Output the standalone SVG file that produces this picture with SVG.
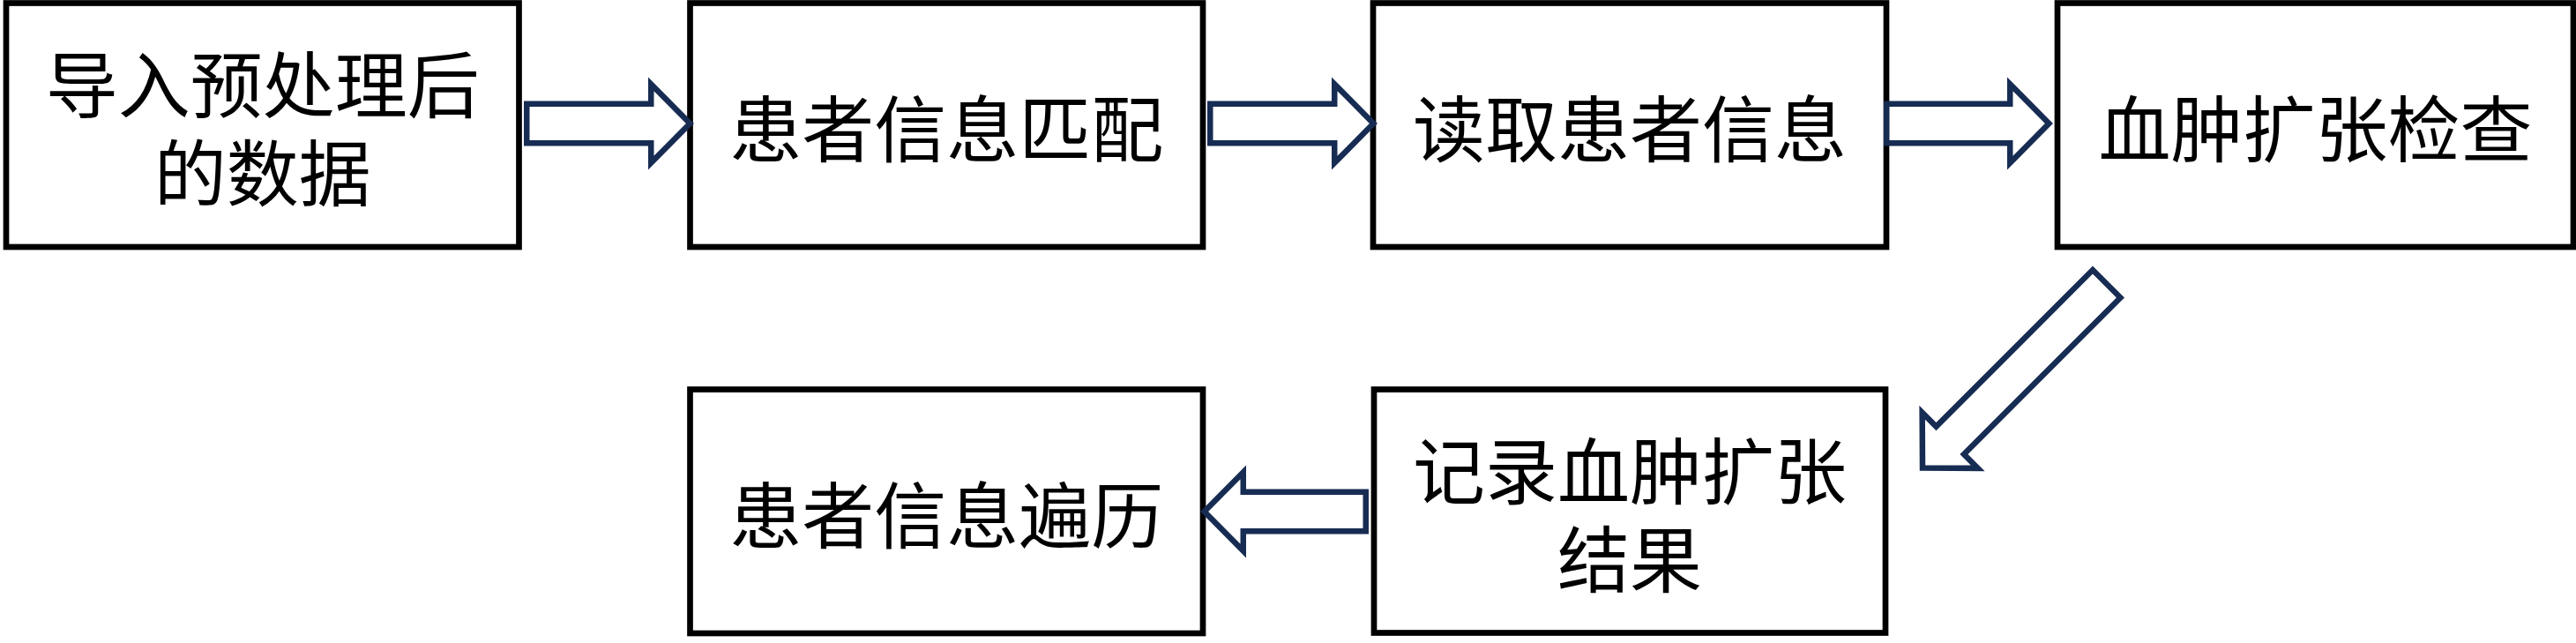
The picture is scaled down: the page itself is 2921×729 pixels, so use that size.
<svg xmlns="http://www.w3.org/2000/svg" width="2921" height="729" viewBox="0 0 2921 729">
<style>
.box{fill:#ffffff;stroke:#000000;stroke-width:6.7}
.lbl{font-family:"Noto Sans CJK SC","Noto Sans CJK TC",sans-serif;font-size:82px;fill:#000000;text-anchor:middle}
.arr{fill:#ffffff;stroke:#172C52;stroke-width:6.5;stroke-linejoin:miter;stroke-miterlimit:10}
</style>
<rect width="2921" height="729" fill="#ffffff"/>
<g id="node1">
<rect class="box" x="7" y="3.5" width="581.5" height="276.5"/>
<text class="lbl"><tspan x="297.75" y="127">导入预处理后</tspan><tspan x="297.75" y="227">的数据</tspan></text>
</g>
<g id="node2">
<rect class="box" x="782.5" y="3.5" width="581.5" height="276.5"/>
<text class="lbl" x="1073.25" y="177">患者信息匹配</text>
</g>
<g id="node3">
<rect class="box" x="1557" y="3.5" width="582" height="276.5"/>
<text class="lbl" x="1848" y="177">读取患者信息</text>
</g>
<g id="node4">
<rect class="box" x="2333" y="3.5" width="585" height="276.5"/>
<text class="lbl" x="2625.5" y="177">血肿扩张检查</text>
</g>
<g id="node5">
<rect class="box" x="1558" y="441.5" width="580" height="276"/>
<text class="lbl"><tspan x="1848" y="565">记录血肿扩张</tspan><tspan x="1848" y="665">结果</tspan></text>
</g>
<g id="node6">
<rect class="box" x="782.5" y="441.5" width="581.5" height="276.5"/>
<text class="lbl" x="1073.25" y="615">患者信息遍历</text>
</g>
<g id="connectors">
<path class="arr" transform="translate(594,140)" d="M3.25,-22.25 H144.25 V-44.65 L188.4,0 L144.25,44.65 V22.25 H3.25 Z"/>
<path class="arr" transform="translate(1369,140)" d="M3.25,-22.25 H144.25 V-44.65 L188.4,0 L144.25,44.65 V22.25 H3.25 Z"/>
<path class="arr" transform="translate(2136,140)" d="M3.25,-22.25 H143.25 V-44.65 L187.4,0 L143.25,44.65 V22.25 H3.25 Z"/>
<path class="arr" transform="translate(2391,319.5) rotate(135)" d="M3.25,-22.25 H254.25 V-44.65 L298.4,0 L254.25,44.65 V22.25 H3.25 Z"/>
<path class="arr" transform="translate(1552,580) rotate(180)" d="M3.25,-22.25 H142.25 V-44.65 L186.4,0 L142.25,44.65 V22.25 H3.25 Z"/>
</g>
</svg>
